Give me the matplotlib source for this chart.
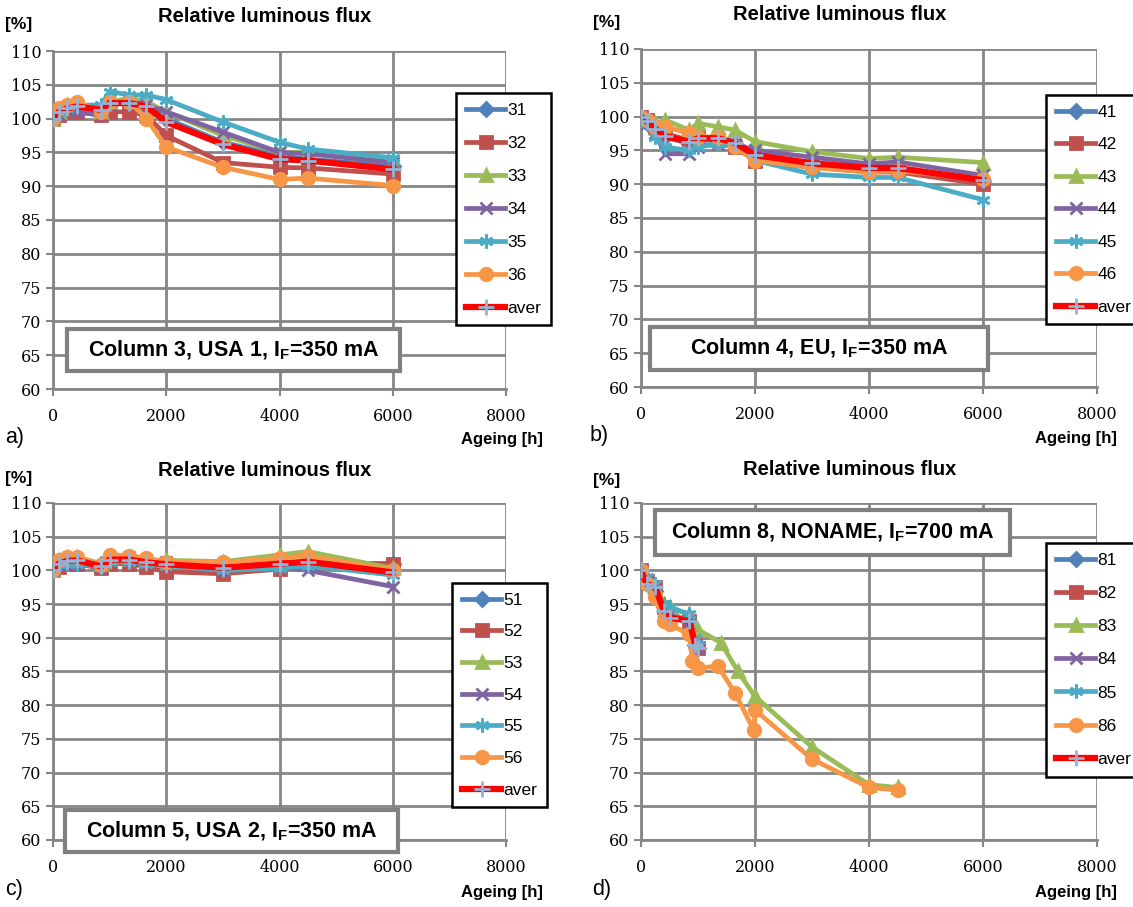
import numpy as np
import matplotlib
matplotlib.use("Agg")
import matplotlib.pyplot as plt
from matplotlib.patches import Rectangle

W, H = 1133, 907

# ---- data ----
t = [0, 100, 250, 420, 850, 1000, 1350, 1650, 2000, 3000, 4000, 4500, 6000]

a_labels = ["31", "32", "33", "34", "35", "36", "aver"]
a_vals = [
    [100, 101, 101.5, 102, 101, 102, 102.5, 102, 100, 96.5, 94.5, 94, 93],
    [100, 100.5, 101, 101, 100.5, 101, 101, 100.5, 97.5, 93.5, 92.8, 92.7, 91.8],
    [100, 101, 102, 102, 101, 102.5, 103, 102.5, 101, 97.5, 95, 95, 93.5],
    [100, 100.5, 101.5, 101, 100.5, 102, 102.5, 102, 101, 98, 95, 94.8, 93.5],
    [100, 101, 101.5, 102, 102, 104, 103.5, 103.5, 102.8, 99.5, 96.5, 95.5, 94.2],
    [100, 101.5, 102, 102.5, 101, 102.5, 102.5, 100, 95.8, 92.8, 91, 91.2, 90.1],
    [100, 101, 101.5, 101.8, 101.3, 102.3, 102.3, 101.8, 99.5, 96.2, 94, 93.8, 92.5],
]

b_labels = ["41", "42", "43", "44", "45", "46", "aver"]
b_vals = [
    [100, 99, 98, 97, 96, 96.5, 96.5, 96, 94, 93, 92, 92, 90.5],
    [100, 99.5, 98.5, 97.5, 96.5, 97, 96.5, 95.5, 93.5, 92.5, 91.8, 91.8, 90],
    [100, 99.5, 99, 99.5, 98, 99, 98.5, 98, 96.3, 94.8, 93.8, 94, 93.2],
    [100, 99, 97.5, 94.5, 94.5, 95.5, 96, 96, 95, 94, 93, 93.3, 91.3],
    [100, 99, 97, 95.5, 95, 95.5, 96, 95.5, 93.5, 91.5, 91, 91, 87.7],
    [100, 99.5, 98.5, 98.5, 97.5, 97, 97, 95.5, 93.5, 92.5, 91.8, 92, 90.8],
    [100, 99.3, 98.2, 97.1, 96.3, 96.8, 96.8, 96.1, 94.3, 93.1, 92.4, 92.4, 90.6],
]

c_labels = ["51", "52", "53", "54", "55", "56", "aver"]
c_vals = [
    [100, 101, 101.5, 101.5, 101, 101.5, 101.5, 101, 101, 100.5, 101, 101, 101],
    [100, 100.5, 101, 101, 100.3, 101, 101, 100.5, 99.8, 99.5, 100.2, 101, 101],
    [100, 101.5, 102, 102, 101, 102, 102, 101.5, 101.5, 101.3, 102.3, 102.8, 100.3],
    [100, 101, 101, 101, 100.5, 101.5, 102, 101.5, 101.3, 100, 100.5, 100, 97.6],
    [100, 101, 101, 101, 100.5, 101.3, 101.3, 101, 100.7, 100, 100.3, 100.7, 99.3],
    [100, 101.5, 102, 102, 100.8, 102.3, 102.2, 101.8, 101.3, 101.2, 101.8, 102.2, 100],
    [100, 101, 101.4, 101.5, 100.6, 101.6, 101.6, 101.2, 100.9, 100.4, 101, 101.3, 99.7],
]

d_labels = ["81", "82", "83", "84", "85", "86", "aver"]
t_short = [0, 100, 250, 400, 500, 850, 950, 1000]
t_83 = [0, 100, 250, 400, 500, 850, 1000, 1400, 1700, 2000, 3000, 4000, 4500]
t_86 = [0, 100, 250, 400, 500, 850, 900, 1000, 1350, 1650, 1980, 2000, 3000, 4000, 4500]
d_times = [t_short, t_short, t_83, t_short, t_short, t_86, t_short]
d_vals = [
    [100, 98.5, 97, 94.5, 93.5, 92.5, 89, 88.5],
    [100, 98.5, 97.5, 94.5, 93.5, 92.5, 89.5, 88.5],
    [100, 99, 97.5, 95, 94.5, 93.5, 91.2, 89.3, 85, 81.3, 73.8, 68.2, 67.8],
    [100, 98.5, 97, 94, 93.5, 92, 89, 88.5],
    [100, 99, 98, 95, 94.5, 93.5, 90, 89],
    [100, 98, 96, 92.5, 92, 90.5, 86.5, 85.5, 85.8, 81.8, 76.3, 79.3, 72, 67.8, 67.4],
    [100, 98, 97.5, 94, 93, 92.5, 89, 88.5],
]

colors = ["#4F81BD", "#C0504D", "#9BBB59", "#8064A2", "#4BACC6", "#F79646", "#FF0000"]
markers = ["D", "s", "^", "x", (6, 2, 0), "o", "+"]
msizes = [7, 8, 8, 9, 10, 9, 11]

serif = "DejaVu Serif"
sans = "Liberation Sans"
grid_c = "#868686"


def fx(px):
    return px / W


def fy(py):
    return 1 - py / H


fig = plt.figure(figsize=(W / 100, H / 100), dpi=100)

panels = [
    # x0, x1, ytop, ybot (pixels)
    dict(box=(53, 506, 51, 389), labels=a_labels, vals=a_vals, times=[t] * 7,
         text="Column 3, USA 1, I$_\\mathregular{F}$=350 mA", tbox=(67, 329, 400, 371),
         leg=(456, 93), letter="a)", letpos=(5, 437), title=(265, 16), pct=(5, 25),
         age=(543, 440), lspace=1.03),
    dict(box=(641, 1097, 49, 387), labels=b_labels, vals=b_vals, times=[t] * 7,
         text="Column 4, EU, I$_\\mathregular{F}$=350 mA", tbox=(650, 327, 988, 370),
         leg=(1046, 95), letter="b)", letpos=(590, 436), title=(840, 14), pct=(593, 23),
         age=(1117, 438), lspace=1.0),
    dict(box=(53, 506, 503, 840), labels=c_labels, vals=c_vals, times=[t] * 7,
         text="Column 5, USA 2, I$_\\mathregular{F}$=350 mA", tbox=(65, 810, 398, 852),
         leg=(452, 583), letter="c)", letpos=(5, 890), title=(265, 471), pct=(5, 479),
         age=(543, 892), lspace=0.95),
    dict(box=(641, 1097, 503, 840), labels=d_labels, vals=d_vals, times=d_times,
         text="Column 8, NONAME, I$_\\mathregular{F}$=700 mA", tbox=(655, 510, 1010, 555),
         leg=(1046, 543), letter="d)", letpos=(592, 890), title=(850, 470), pct=(593, 481),
         age=(1117, 892), lspace=1.04),
]

for p in panels:
    x0, x1, yt, yb = p["box"]
    ax = fig.add_axes([fx(x0), fy(yb), fx(x1 - x0), (yb - yt) / H])
    ax.set_xlim(0, 8000)
    ax.set_ylim(60, 110)
    ax.set_xticks(np.arange(0, 8001, 2000))
    ax.set_yticks(np.arange(60, 111, 5))
    ax.grid(True, color=grid_c, linewidth=2)
    for s in ["top", "right"]:
        ax.spines[s].set_visible(False)
    for s in ["left", "bottom"]:
        ax.spines[s].set_color(grid_c)
        ax.spines[s].set_linewidth(2)
    ax.tick_params(axis="both", color=grid_c, width=1.5, length=5, labelsize=11.5)
    ax.tick_params(axis="x", pad=9)
    for lab in ax.get_xticklabels() + ax.get_yticklabels():
        lab.set_fontfamily(serif)

    for i, (lab, vals, tt) in enumerate(zip(p["labels"], p["vals"], p["times"])):
        if lab == "aver":
            ax.plot(tt, vals, color=colors[i], linewidth=4.5, marker="+",
                    markersize=msizes[i], markeredgecolor="#95B3D7",
                    markeredgewidth=2, label=lab, zorder=5)
        else:
            ax.plot(tt, vals, color=colors[i], linewidth=3.4, marker=markers[i],
                    markersize=msizes[i], markerfacecolor=colors[i],
                    markeredgecolor=colors[i], markeredgewidth=2, label=lab,
                    zorder=3)

    leg = fig.legend(*ax.get_legend_handles_labels(), loc="upper left",
                     bbox_to_anchor=(fx(p["leg"][0]), fy(p["leg"][1])),
                     frameon=True, fancybox=False, framealpha=1,
                     edgecolor="black", prop={"family": sans, "size": 12.5},
                     labelspacing=p["lspace"], handlelength=2.3, handletextpad=0.1,
                     borderpad=0.55, borderaxespad=0)
    leg.get_frame().set_linewidth(1.8)

    bx0, by0, bx1, by1 = p["tbox"]
    fig.patches.append(Rectangle((fx(bx0), fy(by1)), fx(bx1 - bx0), (by1 - by0) / H,
                                 transform=fig.transFigure, facecolor="white",
                                 edgecolor="#808080", linewidth=3, zorder=10))
    fig.text(fx((bx0 + bx1) / 2), fy((by0 + by1) / 2), p["text"], ha="center",
             va="center", fontsize=15.5, fontweight="bold", family=sans, zorder=11)

    fig.text(fx(p["title"][0]), fy(p["title"][1]), "Relative luminous flux",
             ha="center", va="center", fontsize=14.5, fontweight="bold", family=sans)
    fig.text(fx(p["pct"][0]), fy(p["pct"][1]), "[%]", ha="left", va="center",
             fontsize=12.5, fontweight="bold", family=sans)
    fig.text(fx(p["age"][0]), fy(p["age"][1]), "Ageing [h]", ha="right", va="center",
             fontsize=12, fontweight="bold", family=sans)
    fig.text(fx(p["letpos"][0]), fy(p["letpos"][1]), p["letter"], ha="left",
             va="center", fontsize=15.5, family=sans)

fig.savefig("out.png", dpi=100)
